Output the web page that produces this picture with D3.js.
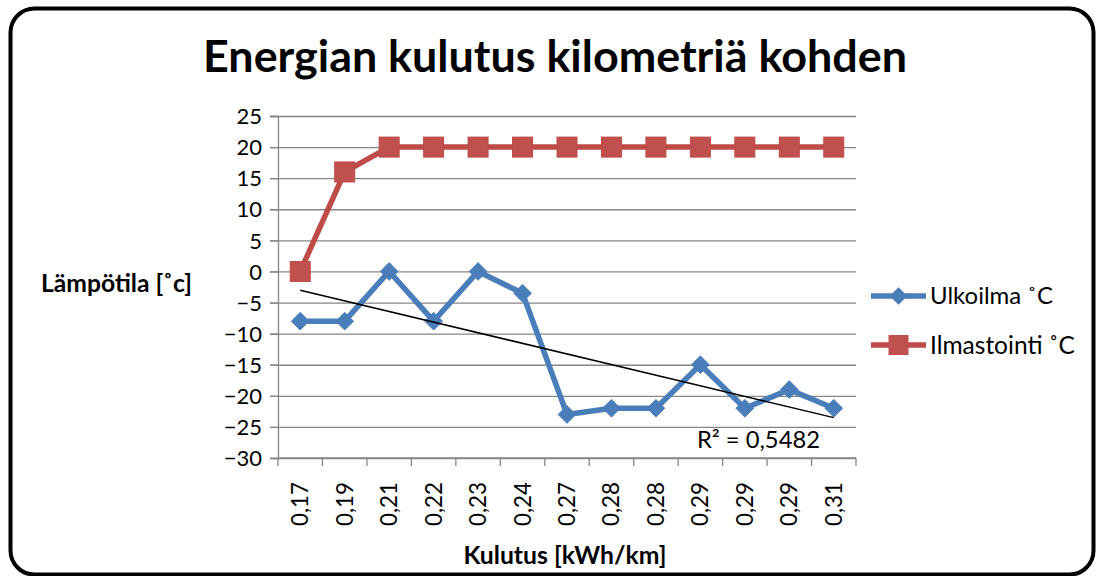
<!DOCTYPE html>
<html>
<head>
<meta charset="utf-8">
<script src="https://cdn.jsdelivr.net/npm/d3@7"></script>
<style>
body { margin: 0; background: #fff; }
text { font-family: Lato, "Open Sans", sans-serif; fill: #000; }
</style>
</head>
<body>
<svg id="chart" width="1098" height="576"></svg>
<script>
// data
var categories = ["0,17", "0,19", "0,21", "0,22", "0,23", "0,24", "0,27", "0,28", "0,28", "0,29", "0,29", "0,29", "0,31"];
var ulkoilma = [-8, -8, 0, -8, 0, -3.5, -23, -22, -22, -15, -22, -19, -22];
var ilmastointi = [0, 16, 20, 20, 20, 20, 20, 20, 20, 20, 20, 20, 20];
var yTicks = [-30, -25, -20, -15, -10, -5, 0, 5, 10, 15, 20, 25];
var seriesNames = ["Ulkoilma ˚C", "Ilmastointi ˚C"];
var r2Label = "R² = 0,5482";

var blue = "#4a7ebb", red = "#be4b48";

var svg = d3.select("#chart");

// outer frame
svg.append("rect")
	.attr("x", 10.5).attr("y", 8.5)
	.attr("width", 1083).attr("height", 566)
	.attr("rx", 24).attr("ry", 24)
	.style("fill", "#fff").style("stroke", "#000").style("stroke-width", 4);

var plotLeft = 278, plotRight = 856, plotTop = 116, plotBottom = 458;

var x = d3.scaleBand().domain(d3.range(categories.length)).range([plotLeft, plotRight]);
var y = d3.scaleLinear().domain([-30, 25]).range([plotBottom, plotTop]);
function cx(i){ return x(i) + x.bandwidth() / 2; }

// fit a text to a wanted width
function fit(sel, w){
	var n = sel.node();
	var fs = parseFloat(sel.style("font-size"));
	sel.style("font-size", (fs * w / n.getComputedTextLength()) + "px");
}

// title
svg.append("text")
	.attr("x", 555).attr("y", 72)
	.attr("text-anchor", "middle")
	.style("font-weight", "bold").style("font-size", "36px")
	.text("Energian kulutus kilometriä kohden")
	.call(fit, 704);

// grid lines
svg.append("g").selectAll("line")
	.data(yTicks)
	.enter().append("line")
	.attr("x1", plotLeft - 8).attr("x2", plotRight)
	.attr("y1", function(d){ return y(d) + 0.5; })
	.attr("y2", function(d){ return y(d) + 0.5; })
	.style("stroke", "#868686").style("stroke-width", 1.3);

// y axis
var yAxis = svg.append("g")
	.attr("transform", "translate(" + plotLeft + ",0)")
	.call(d3.axisLeft(y).tickValues(yTicks).tickSize(8).tickPadding(8).tickFormat(d3.format("d")));
yAxis.select(".domain").style("stroke", "#868686").style("stroke-width", 1.3);
yAxis.selectAll(".tick line").style("stroke", "#868686").style("stroke-width", 1.3);
yAxis.selectAll("text")
	.style("font-family", "Lato, sans-serif").style("font-size", "22px")
	.attr("dy", "0.35em");

// x axis
var xAxisG = svg.append("g").attr("transform", "translate(0," + plotBottom + ")");
xAxisG.append("line")
	.attr("x1", plotLeft).attr("x2", plotRight)
	.style("stroke", "#868686").style("stroke-width", 1.3);
xAxisG.selectAll(".xt")
	.data(d3.range(categories.length + 1))
	.enter().append("line")
	.attr("class", "xt")
	.attr("x1", function(d){ return plotLeft + d * x.step(); })
	.attr("x2", function(d){ return plotLeft + d * x.step(); })
	.attr("y1", 0).attr("y2", 8)
	.style("stroke", "#868686").style("stroke-width", 1.3);
xAxisG.selectAll(".xl")
	.data(categories)
	.enter().append("text")
	.attr("class", "xl")
	.attr("transform", function(d, i){ return "translate(" + (cx(i) + 8) + ",24) rotate(-90)"; })
	.attr("text-anchor", "end")
	.style("font-size", "22px")
	.text(function(d){ return d; })
	.call(fit, 44);

// axis titles
svg.append("text")
	.attr("x", 41).attr("y", 292)
	.style("font-weight", "bold").style("font-size", "19px")
	.text("Lämpötila [˚c]")
	.call(fit, 151);

svg.append("text")
	.attr("x", 565).attr("y", 564)
	.attr("text-anchor", "middle")
	.style("font-weight", "bold").style("font-size", "19px")
	.text("Kulutus [kWh/km]")
	.call(fit, 203);

// series
var line = d3.line()
	.x(function(d, i){ return cx(i); })
	.y(function(d){ return y(d); });

svg.append("path")
	.datum(ulkoilma)
	.attr("d", line)
	.style("fill", "none").style("stroke", blue).style("stroke-width", 5.5)
	.style("stroke-linejoin", "round");

svg.append("path")
	.datum(ilmastointi)
	.attr("d", line)
	.style("fill", "none").style("stroke", red).style("stroke-width", 5.5)
	.style("stroke-linejoin", "round");

var diamond = d3.symbol().type(d3.symbolDiamond2).size(200);
svg.append("g").selectAll("path")
	.data(ulkoilma)
	.enter().append("path")
	.attr("d", diamond)
	.attr("transform", function(d, i){ return "translate(" + cx(i) + "," + y(d) + ")"; })
	.style("fill", blue).style("stroke", blue).style("stroke-width", 1);

svg.append("g").selectAll("rect")
	.data(ilmastointi)
	.enter().append("rect")
	.attr("x", function(d, i){ return cx(i) - 10; })
	.attr("y", function(d){ return y(d) - 10; })
	.attr("width", 20).attr("height", 20)
	.style("fill", "#c0504d").style("stroke", red).style("stroke-width", 1);

// linear trend of Ulkoilma (least squares over category index)
var n = ulkoilma.length;
var mx = d3.mean(d3.range(n)), my = d3.mean(ulkoilma);
var sxy = d3.sum(ulkoilma, function(d, i){ return (i - mx) * (d - my); });
var sxx = d3.sum(d3.range(n), function(i){ return (i - mx) * (i - mx); });
var slope = sxy / sxx, icpt = my - slope * mx;

svg.append("line")
	.attr("x1", cx(0)).attr("y1", y(icpt))
	.attr("x2", cx(n - 1)).attr("y2", y(icpt + slope * (n - 1)))
	.style("stroke", "#000").style("stroke-width", 1.5);

svg.append("text")
	.attr("x", 697).attr("y", 448)
	.style("font-size", "20px")
	.text(r2Label)
	.call(fit, 123);

// legend
var legend = svg.append("g").attr("transform", "translate(871,0)");
var legY = [296, 345];
legend.selectAll("line")
	.data(seriesNames)
	.enter().append("line")
	.attr("x1", 0).attr("x2", 55)
	.attr("y1", function(d, i){ return legY[i]; })
	.attr("y2", function(d, i){ return legY[i]; })
	.style("stroke", function(d, i){ return i ? red : blue; })
	.style("stroke-width", 5.5);
legend.append("path")
	.attr("d", diamond)
	.attr("transform", "translate(27.5," + legY[0] + ")")
	.style("fill", blue);
legend.append("rect")
	.attr("x", 17.5).attr("y", legY[1] - 10)
	.attr("width", 20).attr("height", 20)
	.style("fill", "#c0504d");
var legW = [123, 145];
legend.selectAll("text")
	.data(seriesNames)
	.enter().append("text")
	.attr("x", 59)
	.attr("y", function(d, i){ return legY[i]; })
	.attr("dy", "0.35em")
	.style("font-size", "20px")
	.text(function(d){ return d; })
	.each(function(d, i){ fit(d3.select(this), legW[i]); });
</script>
</body>
</html>
